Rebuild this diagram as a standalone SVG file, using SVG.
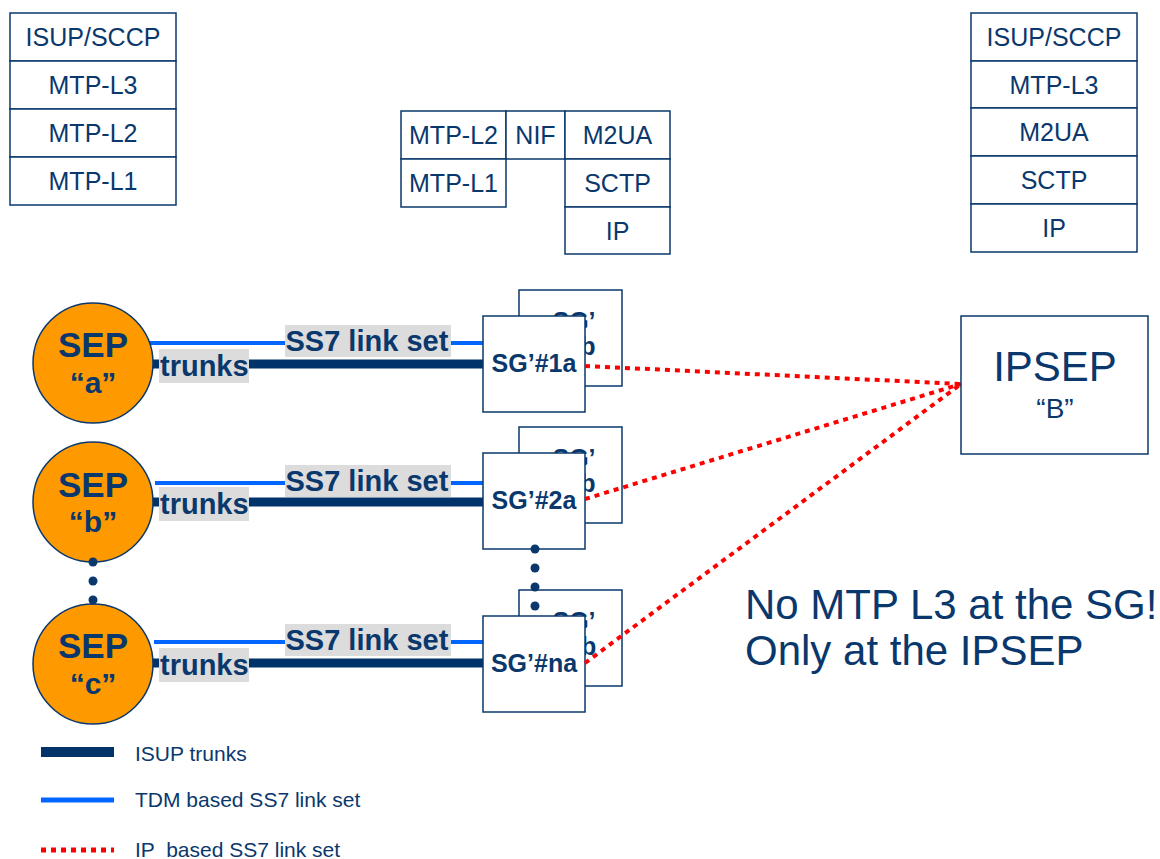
<svg xmlns="http://www.w3.org/2000/svg" width="1160" height="859" viewBox="0 0 1160 859">
<style>
text{font-family:"Liberation Sans",Arial,sans-serif;fill:#0a386c}
.cell{fill:#fff;stroke:#0a386c;stroke-width:1.5}
.st{font-size:25px;text-anchor:middle}
.sep{fill:#ff9900;stroke:#0a386c;stroke-width:1.5}
.sept{font-size:35px;font-weight:bold;text-anchor:middle}
.sepq{font-size:30px;font-weight:bold;text-anchor:middle}
.box{fill:#fff;stroke:#0a386c;stroke-width:1.5}
.sg{font-size:25px;font-weight:bold;text-anchor:middle}
.lbl{font-size:29px;font-weight:bold}
.bg{fill:#dcdcdc}
.trunk{stroke:#00336a;stroke-width:9;fill:none}
.tdm{stroke:#0066ff;stroke-width:4;fill:none}
.ip{stroke:#ff0000;stroke-width:4;stroke-dasharray:5 5;fill:none}
.dot{fill:#0a386c}
.leg{font-size:21px}
</style>

<g id="stack-sep">
<rect class="cell" x="10" y="13" width="166" height="48"/>
<rect class="cell" x="10" y="61" width="166" height="48"/>
<rect class="cell" x="10" y="109" width="166" height="48"/>
<rect class="cell" x="10" y="157" width="166" height="48"/>
<text class="st" x="93" y="46">ISUP/SCCP</text>
<text class="st" x="93" y="94">MTP-L3</text>
<text class="st" x="93" y="142">MTP-L2</text>
<text class="st" x="93" y="190">MTP-L1</text>
</g>

<g id="stack-sg">
<rect class="cell" x="401" y="111" width="105" height="48"/>
<rect class="cell" x="506" y="111" width="59" height="48"/>
<rect class="cell" x="565" y="111" width="105" height="48"/>
<rect class="cell" x="401" y="159" width="105" height="48"/>
<rect class="cell" x="565" y="159" width="105" height="48"/>
<rect class="cell" x="565" y="207" width="105" height="47"/>
<text class="st" x="453.5" y="144">MTP-L2</text>
<text class="st" x="535.5" y="144">NIF</text>
<text class="st" x="617.5" y="144">M2UA</text>
<text class="st" x="453.5" y="192">MTP-L1</text>
<text class="st" x="617.5" y="192">SCTP</text>
<text class="st" x="617.5" y="239.5">IP</text>
</g>

<g id="stack-ipsep">
<rect class="cell" x="971" y="13" width="166" height="48"/>
<rect class="cell" x="971" y="61" width="166" height="47"/>
<rect class="cell" x="971" y="108" width="166" height="48"/>
<rect class="cell" x="971" y="156" width="166" height="48"/>
<rect class="cell" x="971" y="204" width="166" height="48"/>
<text class="st" x="1054" y="46">ISUP/SCCP</text>
<text class="st" x="1054" y="93.5">MTP-L3</text>
<text class="st" x="1054" y="141">M2UA</text>
<text class="st" x="1054" y="189">SCTP</text>
<text class="st" x="1054" y="237">IP</text>
</g>

<g id="connectors">
<line class="tdm" x1="145" y1="343" x2="483" y2="343"/>
<line class="trunk" x1="150" y1="364" x2="483" y2="364"/>
<line class="tdm" x1="155" y1="483" x2="483" y2="483"/>
<line class="trunk" x1="150" y1="502" x2="483" y2="502"/>
<line class="tdm" x1="154" y1="642" x2="483" y2="642"/>
<line class="trunk" x1="150" y1="663" x2="483" y2="663"/>
</g>

<g id="labels">
<rect class="bg" x="285" y="325" width="166" height="32"/>
<text class="lbl" x="285.5" y="350.5">SS7 link set</text>
<rect class="bg" x="159" y="349" width="90" height="34"/>
<text class="lbl" x="160" y="375.5">trunks</text>
<rect class="bg" x="285" y="465" width="166" height="32"/>
<text class="lbl" x="285.5" y="490.5">SS7 link set</text>
<rect class="bg" x="159" y="487" width="90" height="34"/>
<text class="lbl" x="160" y="513.5">trunks</text>
<rect class="bg" x="285" y="624" width="166" height="32"/>
<text class="lbl" x="285.5" y="649.5">SS7 link set</text>
<rect class="bg" x="159" y="648" width="90" height="34"/>
<text class="lbl" x="160" y="674.5">trunks</text>
</g>

<g id="sep-a">
<circle class="sep" cx="93" cy="363" r="60"/>
<text class="sept" x="93" y="357">SEP</text>
<text class="sepq" x="93" y="393">“a”</text>
</g>
<g id="sep-b">
<circle class="sep" cx="93" cy="502" r="60"/>
<text class="sept" x="93" y="497">SEP</text>
<text class="sepq" x="93" y="532">“b”</text>
</g>
<g id="sep-c">
<circle class="sep" cx="93" cy="664" r="60"/>
<text class="sept" x="93" y="658">SEP</text>
<text class="sepq" x="93" y="694">“c”</text>
</g>
<g id="sep-dots">
<circle class="dot" cx="93" cy="562" r="4.5"/>
<circle class="dot" cx="93" cy="581" r="4.5"/>
<circle class="dot" cx="93" cy="600" r="4.5"/>
</g>

<g id="sg-1b">
<rect class="box" x="519" y="290" width="103" height="96"/>
<text class="sg" x="574" y="330">SG’</text>
<text class="sg" x="574" y="355">#1b</text>
</g>
<g id="sg-1a">
<rect class="box" x="483" y="316" width="102" height="96"/>
<text class="sg" x="534" y="372">SG’#1a</text>
</g>
<g id="sg-2b">
<rect class="box" x="519" y="427" width="103" height="96"/>
<text class="sg" x="574" y="467">SG’</text>
<text class="sg" x="574" y="492">#2b</text>
</g>
<g id="sg-2a">
<rect class="box" x="483" y="453" width="102" height="96"/>
<text class="sg" x="534" y="509">SG’#2a</text>
</g>
<g id="sg-nb">
<rect class="box" x="519" y="590" width="103" height="96"/>
<text class="sg" x="574" y="630">SG’</text>
<text class="sg" x="574" y="655">#nb</text>
</g>
<g id="sg-na">
<rect class="box" x="483" y="616" width="102" height="96"/>
<text class="sg" x="534" y="672">SG’#na</text>
</g>
<g id="sg-dots">
<circle class="dot" cx="535" cy="549" r="4.5"/>
<circle class="dot" cx="535" cy="568" r="4.5"/>
<circle class="dot" cx="535" cy="587" r="4.5"/>
<circle class="dot" cx="535" cy="606" r="4.5"/>
</g>

<g id="ip-links">
<line class="ip" x1="585" y1="366" x2="961" y2="384"/>
<line class="ip" x1="585" y1="499" x2="961" y2="384"/>
<line class="ip" x1="585" y1="663" x2="961" y2="384"/>
</g>

<g id="ipsep">
<rect class="box" x="961" y="316" width="187" height="138"/>
<text x="1055" y="381" style="font-size:42px;text-anchor:middle">IPSEP</text>
<text x="1055" y="418" style="font-size:28px;text-anchor:middle">“B”</text>
</g>

<g id="note">
<text x="745" y="619" style="font-size:42px">No MTP L3 at the SG!</text>
<text x="745" y="665" style="font-size:42px">Only at the IPSEP</text>
</g>

<g id="legend">
<line class="trunk" x1="41" y1="752" x2="114" y2="752" style="stroke-width:10"/>
<text class="leg" x="135" y="761">ISUP trunks</text>
<line class="tdm" x1="41" y1="800" x2="114" y2="800" style="stroke-width:5"/>
<text class="leg" x="135" y="807">TDM based SS7 link set</text>
<line class="ip" x1="41" y1="850" x2="114" y2="850" style="stroke-width:5"/>
<text class="leg" x="135" y="857" xml:space="preserve">IP  based SS7 link set</text>
</g>
</svg>
